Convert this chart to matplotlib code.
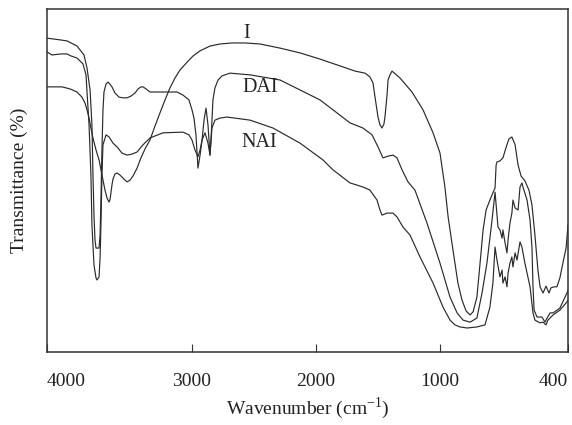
import matplotlib
matplotlib.use("Agg")
import matplotlib.pyplot as plt
import numpy as np

plt.rcParams['font.family'] = ['Liberation Serif', 'DejaVu Serif']
plt.rcParams['mathtext.fontset'] = 'custom'
plt.rcParams['mathtext.rm'] = 'Liberation Serif'

# IR spectra, wavenumber (cm-1) vs transmittance (%)
wn_I = [4000, 3945, 3897, 3841, 3793, 3759, 3738, 3724, 3710, 3697, 3683, 3662, 3641, 3621,
        3600, 3586, 3572, 3566, 3559, 3552, 3545, 3531, 3517, 3497, 3469, 3448, 3428, 3407,
        3379, 3352, 3324, 3290, 3255, 3221, 3186, 3152, 3117, 3083, 3034, 2992, 2935, 2855,
        2774, 2677, 2573, 2452, 2290, 2129, 1968, 1806, 1685, 1605, 1565, 1540, 1524, 1500,
        1484, 1468, 1452, 1444, 1427, 1419, 1403, 1387, 1323, 1226, 1137, 1056, 1000, 977,
        962, 939, 916, 897, 878, 859, 845, 827, 813, 798, 784, 766, 752, 742, 737, 733, 719,
        705, 691, 677, 663, 648, 634, 620, 602, 583, 569, 555, 541, 531, 517, 503, 489, 480,
        466, 452, 438, 423, 409, 400]
t_I = [77.3, 77.3, 77.3, 76.7, 75.8, 74.3, 72.6, 70.6, 68.2, 65.3, 62.4, 58.9, 56.0, 51.6,
       47.2, 44.9, 43.7, 44.3, 46.4, 48.7, 50.4, 51.9, 52.2, 51.6, 50.4, 49.6, 50.1, 51.3,
       53.6, 56.6, 59.2, 61.8, 65.9, 69.7, 73.5, 77.0, 79.9, 82.2, 84.5, 86.3, 87.8, 89.2,
       89.8, 90.1, 90.1, 89.8, 88.6, 87.2, 85.4, 83.4, 81.9, 81.3, 80.2, 78.4, 74.3, 68.5,
       66.2, 65.3, 66.5, 68.5, 74.9, 79.3, 80.8, 81.9, 79.9, 75.8, 70.6, 63.9, 58.0, 48.1,
       39.4, 29.7, 20.1, 15.2, 12.0, 10.8, 11.7, 16.0, 25.4, 35.6, 41.4, 44.3, 46.4, 47.8,
       54.5, 55.4, 55.7, 56.6, 59.5, 62.1, 62.7, 60.4, 54.5, 51.3, 49.9, 47.2, 42.9, 34.1,
       23.9, 19.0, 17.2, 19.2, 17.2, 18.7, 19.0, 19.0, 21.6, 26.2, 30.3, 37.0]

wn_DAI = [4000, 3910, 3862, 3793, 3745, 3724, 3703, 3690, 3683, 3676, 3669, 3662, 3641, 3634,
          3628, 3621, 3614, 3607, 3593, 3579, 3566, 3552, 3531, 3503, 3476, 3448, 3421, 3393,
          3372, 3352, 3338, 3317, 3290, 3103, 3062, 3021, 3000, 2984, 2968, 2952, 2935, 2919,
          2903, 2887, 2871, 2855, 2847, 2839, 2831, 2815, 2790, 2758, 2694, 2532, 2290, 2129,
          1968, 1863, 1726, 1621, 1548, 1500, 1460, 1419, 1379, 1347, 1306, 1258, 1202, 1105,
          1000, 953, 920, 892, 859, 827, 803, 780, 756, 742, 728, 719, 709, 705, 695, 686, 681,
          672, 663, 658, 648, 634, 625, 616, 611, 592, 578, 569, 564, 559, 545, 522, 508, 498,
          484, 470, 438, 405, 400]
t_DAI = [91.5, 91.0, 90.7, 89.2, 86.6, 82.8, 76.4, 66.2, 51.6, 39.9, 32.7, 30.3, 30.3, 34.1,
         44.3, 58.9, 70.6, 75.8, 78.1, 78.7, 78.1, 77.3, 75.5, 74.3, 74.1, 74.1, 74.6, 75.5,
         76.7, 77.3, 77.3, 76.7, 75.8, 75.8, 74.9, 73.5, 70.6, 68.2, 63.3, 53.6, 57.4, 61.8,
         67.6, 71.1, 66.2, 57.4, 61.8, 67.6, 73.5, 77.0, 79.3, 80.5, 81.3, 80.8, 79.3, 76.4,
         73.5, 70.6, 66.8, 65.3, 63.3, 59.8, 56.6, 57.1, 57.4, 56.6, 53.1, 49.6, 47.2, 37.6,
         25.9, 16.0, 11.4, 9.3, 8.7, 9.9, 17.2, 25.9, 38.5, 46.6, 36.4, 35.6, 33.2, 35.6, 31.8,
         28.9, 32.7, 37.6, 40.5, 44.3, 42.0, 41.4, 48.1, 49.3, 48.1, 44.3, 38.5, 30.6, 19.0,
         12.2, 10.2, 10.2, 8.7, 9.9, 11.4, 11.4, 12.8, 17.2, 18.1]

wn_NAI = [4000, 3966, 3903, 3862, 3834, 3793, 3752, 3731, 3724, 3710, 3697, 3690, 3676, 3662,
          3655, 3641, 3634, 3628, 3621, 3614, 3593, 3572, 3545, 3517, 3483, 3448, 3414, 3379,
          3338, 3290, 3200, 3062, 3021, 3000, 2976, 2952, 2935, 2919, 2895, 2871, 2855, 2839,
          2815, 2774, 2718, 2532, 2347, 2129, 1944, 1863, 1726, 1621, 1565, 1508, 1484, 1468,
          1427, 1379, 1347, 1298, 1242, 1161, 1056, 986, 953, 930, 906, 873, 827, 789, 766, 752,
          742, 733, 719, 709, 705, 695, 686, 681, 672, 663, 658, 648, 639, 625, 616, 602, 578,
          564, 555, 531, 517, 503, 494, 470, 438, 405, 400]
t_NAI = [87.5, 86.6, 86.9, 86.9, 86.3, 85.7, 84.0, 80.8, 75.8, 66.2, 51.6, 37.0, 25.4, 21.6,
         21.0, 21.9, 27.4, 37.0, 51.6, 60.4, 63.3, 62.7, 60.9, 59.8, 58.0, 57.4, 57.7, 58.3,
         60.4, 62.4, 63.9, 64.1, 63.3, 61.8, 58.9, 56.9, 58.9, 61.8, 63.9, 60.9, 57.4, 65.3,
         67.6, 68.2, 68.5, 67.6, 65.3, 60.9, 56.0, 53.1, 49.3, 48.1, 47.2, 44.3, 41.4, 39.9,
         40.5, 40.5, 39.4, 36.4, 34.1, 27.7, 20.1, 13.1, 9.3, 7.9, 7.3, 7.0, 7.3, 7.9, 13.1, 20.1,
         30.6, 26.8, 21.9, 23.9, 20.1, 21.9, 19.0, 23.0, 25.9, 27.7, 24.8, 28.9, 26.8, 32.1,
         30.6, 25.9, 19.0, 11.4, 9.3, 8.5, 8.7, 7.9, 9.3, 10.8, 12.2, 14.6, 15.2]

labels = ['I', 'DAI', 'NAI']
label_wn = [2556, 2452, 2460]
label_t = [93.0, 77.0, 61.2]

# x axis is stretched differently on each segment
w_nodes = [400, 1000, 2000, 3000, 4000]
p_nodes = [-521, -393, -269, -145, 0]


def fwd(w):
    return np.interp(np.asarray(w, dtype=float), w_nodes, p_nodes)


def inv(p):
    return np.interp(np.asarray(p, dtype=float), p_nodes, w_nodes)


fig = plt.figure(figsize=(5.72, 4.25), dpi=100)
ax = fig.add_axes([47 / 572, 1 - 352 / 425, 521 / 572, 343 / 425])
ax.set_xscale('function', functions=(fwd, inv))

lc = '#2a2a2a'
ax.plot(wn_I, t_I, color=lc, lw=0.85)
ax.plot(wn_DAI, t_DAI, color=lc, lw=0.85)
ax.plot(wn_NAI, t_NAI, color=lc, lw=0.85)

for s, xw, yt in zip(labels, label_wn, label_t):
    ax.text(xw, yt, s, fontsize=14.5, ha='center', va='center', color='#222222')

ax.set_xlim(4000, 400)
ax.set_ylim(0, 100)
ticks = [4000, 3000, 2000, 1000, 400]
ax.set_xticks(ticks)
ax.set_xticklabels([str(w) for w in ticks])
tl = ax.get_xticklabels()
tl[0].set_ha('left')
tl[-1].set_ha('right')
ax.set_yticks([])
ax.tick_params(axis='x', direction='in', length=6, width=0.8, pad=15,
               labelsize=14, colors='#333333', labelcolor='#222222')
for sp in ax.spines.values():
    sp.set_linewidth(1.1)
    sp.set_color('#333333')

ax.set_xlabel('Wavenumber (cm$^{-1}$)', fontsize=14, labelpad=4, color='#222222')
ax.set_ylabel('Transmittance (%)', fontsize=14, labelpad=14, color='#222222')

fig.savefig('out.png', dpi=100)
